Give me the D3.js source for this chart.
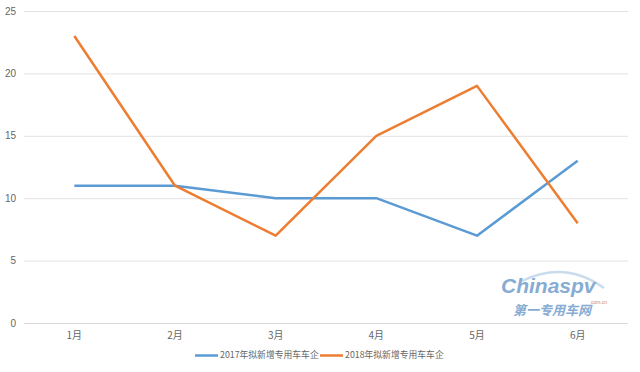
<!DOCTYPE html>
<html><head><meta charset="utf-8">
<script src="https://cdn.jsdelivr.net/npm/d3@7"></script>
<style>body{margin:0;background:#fff;} svg{display:block;font-family:"Noto Sans CJK SC","Liberation Sans",sans-serif;}</style>
</head><body>
<svg id="c" width="640" height="372"></svg>
<script>
const categories = ["1月","2月","3月","4月","5月","6月"];
const series2017 = [11,11,10,10,7,13];
const series2018 = [23,11,7,15,19,8];
const yTicks = [0,5,10,15,20,25];
const seriesNames = ["2017年拟新增专用车车企","2018年拟新增专用车车企"];
const colors = ["#5B9BD5","#ED7D31"];

(function(){
const svg = d3.select("#c");
const mLeft = 24, mRight = 628, mTop = 11, mBottom = 323;
const x = d3.scaleBand().domain(categories).range([mLeft, mRight]);
const y = d3.scaleLinear().domain([0,25]).range([mBottom, mTop]);

// gridlines
svg.append("g").selectAll("line").data(yTicks).join("line")
  .attr("x1", mLeft).attr("x2", mRight)
  .attr("y1", d=>y(d)+0.5).attr("y2", d=>y(d)+0.5)
  .attr("stroke", d=> d===0 ? "#d9d9d9" : "#e3e3e3").attr("stroke-width",1);

// y labels
svg.append("g").selectAll("text").data(yTicks).join("text")
  .attr("x", 16).attr("y", d=>y(d)).attr("dy","0.35em")
  .attr("text-anchor","end").attr("font-size",10).attr("fill","#666")
  .attr("font-family","Liberation Sans, Arial, sans-serif")
  .text(d=>d);

// x labels
svg.append("g").selectAll("text").data(categories).join("text")
  .attr("x", d=>x(d)+x.bandwidth()/2).attr("y", 339)
  .attr("text-anchor","middle").attr("font-size",10).attr("fill","#666")
  .text(d=>d);

// watermark
const wm = svg.append("g");
wm.append("path").attr("d","M522,281 Q565,260 604,288").attr("fill","none").attr("stroke","#c9dcee").attr("stroke-width",2.5);
wm.append("text").attr("x",501).attr("y",293).attr("font-size",21).attr("font-weight","bold").attr("font-style","italic")
  .attr("fill","#86acd4").attr("font-family","Liberation Sans, Arial, sans-serif").text("Chinaspv");
wm.append("text").attr("x",591).attr("y",304).attr("font-size",5).attr("fill","#c98a6a").attr("font-family","Liberation Sans, sans-serif").text("com.cn");
wm.append("text").attr("x",513).attr("y",315).attr("font-size",13).attr("font-style","italic").attr("font-weight","bold")
  .attr("fill","#86acd4").text("第一专用车网");

// lines
const line = d3.line().x((d,i)=>x(categories[i])+x.bandwidth()/2).y(d=>y(d));
[series2017, series2018].forEach((s,i)=>{
  svg.append("path").datum(s).attr("d", line).attr("fill","none")
    .attr("stroke", colors[i]).attr("stroke-width",2.5).attr("stroke-linejoin","round");
});

// legend
const lg = svg.append("g");
const legendX = [195, 320];
seriesNames.forEach((n,i)=>{
  lg.append("line").attr("x1",legendX[i]).attr("x2",legendX[i]+23).attr("y1",355.5).attr("y2",355.5)
    .attr("stroke",colors[i]).attr("stroke-width",2.5);
  lg.append("text").attr("x",legendX[i]+25).attr("y",355).attr("dy","0.35em")
    .attr("font-size",8.8).attr("fill","#666").text(n);
});
})();
</script>
</body></html>
